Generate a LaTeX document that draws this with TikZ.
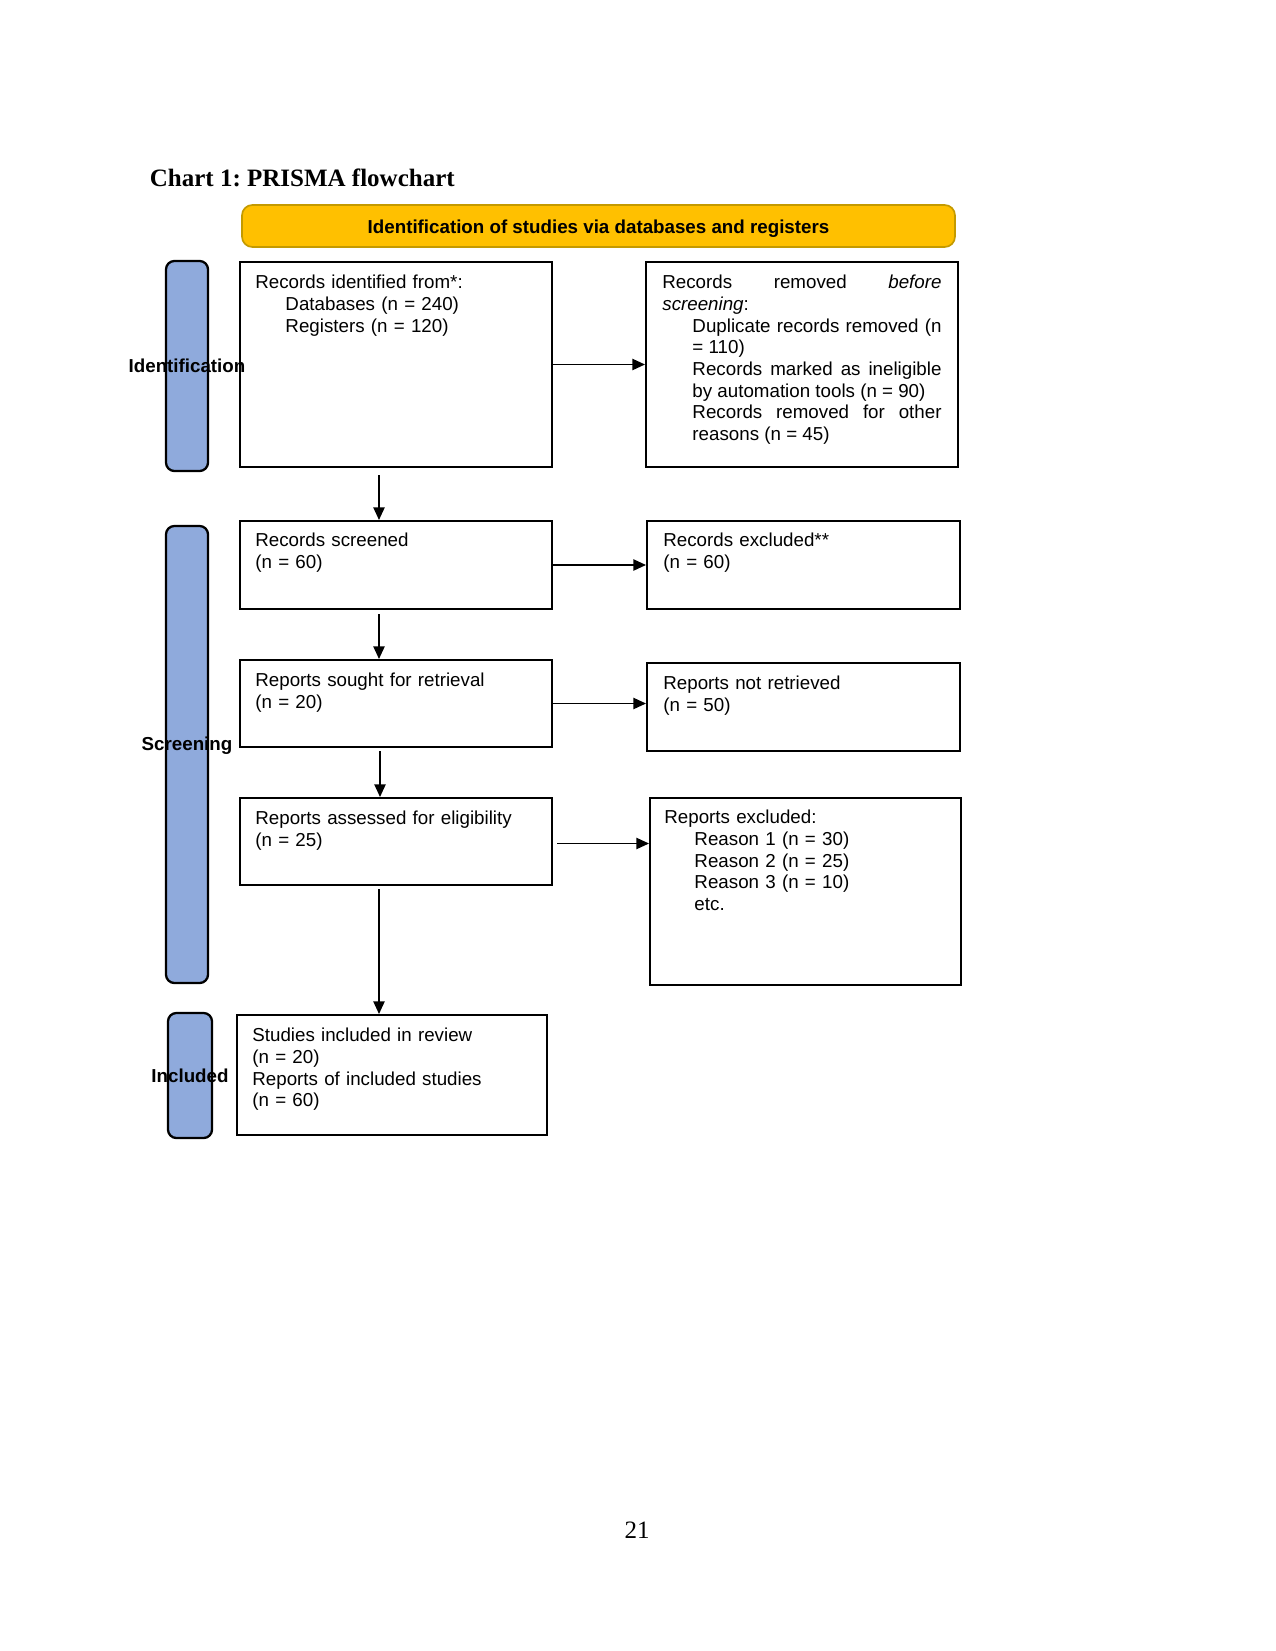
\documentclass[tikz,border=0pt]{standalone}
\usepackage{fontspec}
\setmainfont{Liberation Serif}
\newfontfamily\arialf{Liberation Sans}
\usetikzlibrary{arrows.meta,fit,calc}
\definecolor{barblue}{HTML}{8FAADC}
\definecolor{banyel}{HTML}{FFC000}
\definecolor{banedge}{HTML}{C49A00}
\newcommand{\ind}{\hangindent=0.2in\hangafter=0 }
\frenchspacing
\begin{document}
\begin{tikzpicture}[x=0.48pt,y=-0.48pt,
  box/.style={draw=black, line width=1pt, inner sep=0pt},
  bar/.style={draw=black, fill=barblue, line width=1.1pt, rounded corners=4pt, inner sep=0pt},
  banner/.style={draw=banedge, fill=banyel, line width=0.8pt, rounded corners=5pt, inner sep=0pt},
  bantxt/.style={inner sep=0pt, anchor=base, font=\arialf\bfseries\fontsize{9}{10.4}\selectfont},
  sidelab/.style={inner sep=0pt, font=\arialf\bfseries\fontsize{9}{10.4}\selectfont},
  txt/.style={anchor=base west, inner sep=0pt, text width=136pt, align=left,
    font=\arialf\fontsize{9}{10.4}\selectfont},
  jtxt/.style={anchor=base west, inner sep=0pt, text width=134pt, align=justify,
    font=\arialf\fontsize{9}{10.4}\selectfont},
  arr/.style={-{Triangle[length=6pt,width=5.4pt]}, line width=0.6pt},
  ttl/.style={anchor=base west, inner sep=0pt, font=\bfseries\fontsize{12}{14}\selectfont},
  pnum/.style={anchor=base, inner sep=0pt, font=\fontsize{12}{14}\selectfont}
]
\useasboundingbox[fill=white] (0,0) rectangle (1275,1651);

% title
\node[ttl] (title) at (149.5,187) {Chart 1: PRISMA flowchart};

% banner
\node[banner, fit={(242,205)(955,247)}] (banner) {};
\node[bantxt] (bant) at ($(banner.center)+(0,7)$) {Identification of studies via databases and registers};

% side bars
\node[bar, fit={(166,261)(208,471)}] (barid) {};
\node[bar, fit={(166,526)(208,983)}] (barsc) {};
\node[bar, fit={(168,1013)(212,1138)}] (barin) {};
\node[sidelab] (labid) at (187,366) {Identification};
\node[sidelab] (labsc) at (187,746) {Screening};
\node[sidelab] (labin) at (190,1076) {Included};

% boxes
\node[box, fit={(240,262)(552,467)}] (b1) {};
\node[box, fit={(646,262)(958,467)}] (b2) {};
\node[box, fit={(240,521)(552,609)}] (b3) {};
\node[box, fit={(647,521)(960,609)}] (b4) {};
\node[box, fit={(240,660)(552,747)}] (b5) {};
\node[box, fit={(647,663)(960,751)}] (b6) {};
\node[box, fit={(240,798)(552,885)}] (b7) {};
\node[box, fit={(650,798)(961,985)}] (b8) {};
\node[box, fit={(237,1015)(547,1135)}] (b9) {};

% texts
\node[txt] (t1) at ($(b1.north west)+(16,28)$) {Records identified from*:\par
  \ind Databases (n = 240)\par \ind Registers (n = 120)\par};
\node[jtxt] (t2) at ($(b2.north west)+(17,28)$) {Records removed \textit{before} \linebreak \textit{screening}:\par
  \ind Duplicate records removed (n \linebreak = 110)\par
  \ind Records marked as ineligible \linebreak by automation tools (n = 90)\par
  \ind Records removed for other \linebreak reasons (n = 45)\par};
\node[txt] (t3) at ($(b3.north west)+(16,27)$) {Records screened\\(n = 60)};
\node[txt] (t4) at ($(b4.north west)+(17,27)$) {Records excluded**\\(n = 60)};
\node[txt] (t5) at ($(b5.north west)+(16,28)$) {Reports sought for retrieval\\(n = 20)};
\node[txt] (t6) at ($(b6.north west)+(17,28)$) {Reports not retrieved\\(n = 50)};
\node[txt] (t7) at ($(b7.north west)+(16,28)$) {Reports assessed for eligibility\\(n = 25)};
\node[txt] (t8) at ($(b8.north west)+(15,27)$) {Reports excluded:\par
  \ind Reason 1 (n = 30)\par \ind Reason 2 (n = 25)\par \ind Reason 3 (n = 10)\par \ind etc.\par};
\node[txt] (t9) at ($(b9.north west)+(16,28)$) {Studies included in review\\(n = 20)\\Reports of included studies\\(n = 60)};

% connectors
\draw[arr] (b1.east) -- (b2.west);
\draw[arr] (b3.east) -- (b4.west |- b3.east);
\draw[arr] (b5.east) -- (b6.west |- b5.east);
\coordinate (c78) at ($(b7.east)+(4,2)$);
\draw[arr] (c78) -- (c78 -| b8.west);

\coordinate (c13) at ($(b1.south)+(-17,7)$);
\draw[arr] (c13) -- (c13 |- b3.north);
\coordinate (c35) at ($(b3.south)+(-17,4)$);
\draw[arr] (c35) -- (c35 |- b5.north);
\coordinate (c57) at ($(b5.south)+(-16,3)$);
\draw[arr] (c57) -- (c57 |- b7.north);
\coordinate (c79) at ($(b7.south)+(-17,3)$);
\draw[arr] (c79) -- (c79 |- b9.north);

% page number
\node[pnum] (pn) at (637,1538) {21};
\end{tikzpicture}
\end{document}
